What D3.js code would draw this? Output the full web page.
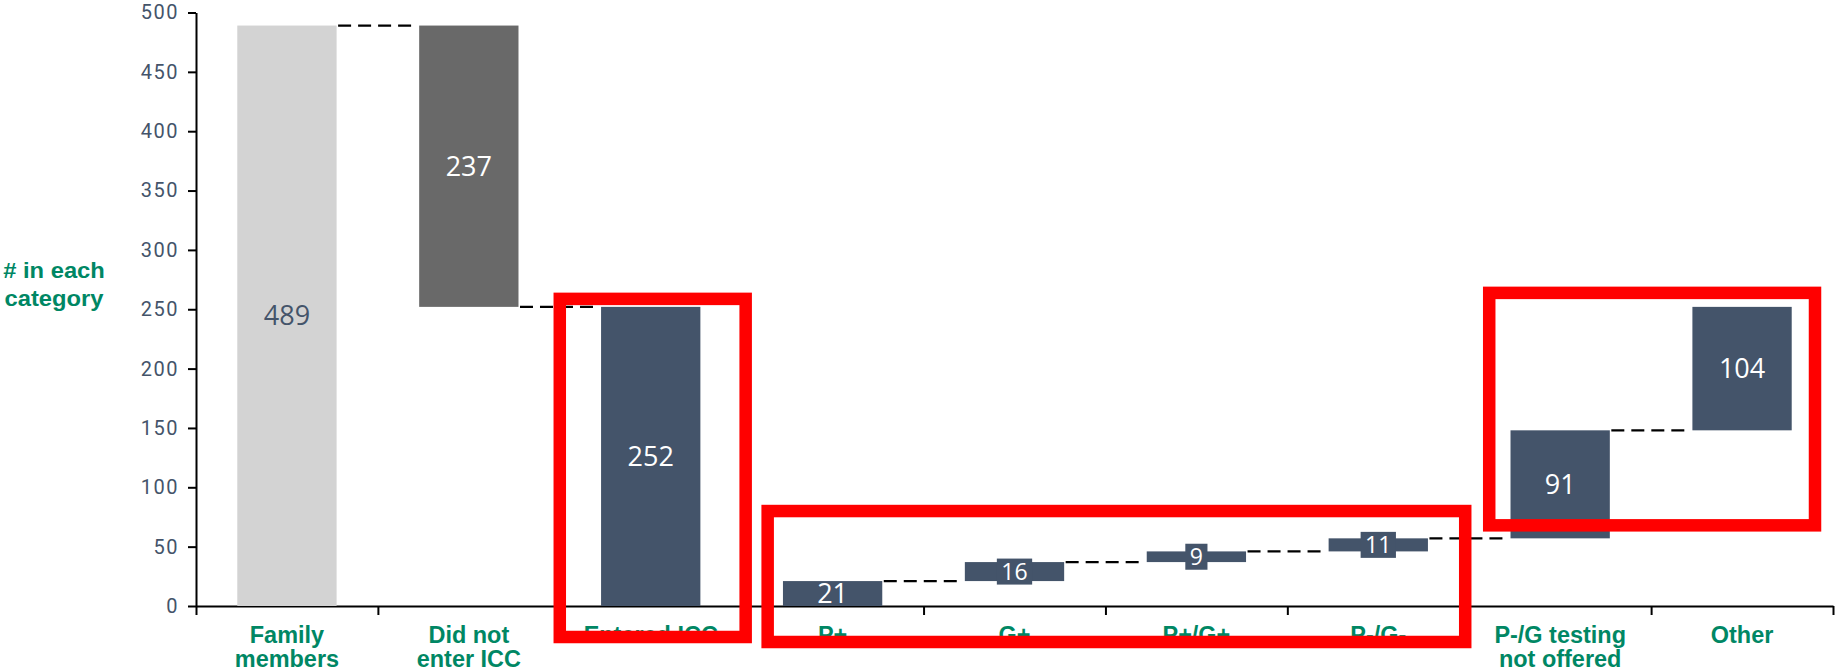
<!DOCTYPE html>
<html>
<head>
<meta charset="utf-8">
<script src="https://cdn.jsdelivr.net/npm/d3@7"></script>
<style>
  html, body { margin: 0; padding: 0; background: #ffffff; }
  svg { display: block; }
</style>
</head>
<body>
<svg id="chart" width="1836" height="671"></svg>
<script>
// Waterfall of family members through ICC entry and testing outcomes
const categories = ["Family members", "Did not enter ICC", "Entered ICC", "P+", "G+", "P+/G+", "P-/G-", "P-/G testing not offered", "Other"];
const categoryLines = [["Family", "members"], ["Did not", "enter ICC"], ["Entered ICC"], ["P+"], ["G+"], ["P+/G+"], ["P-/G-"], ["P-/G testing", "not offered"], ["Other"]];
const values = [489, -237, 252, 21, 16, 9, 11, 91, 104];
// "total" bars rise from zero; "delta" bars float from the running level
const kinds = ["total", "delta", "total", "total", "delta", "delta", "delta", "delta", "delta"];
const barColors = ["#D3D3D3", "#696969", "#44546A", "#44546A", "#44546A", "#44546A", "#44546A", "#44546A", "#44546A"];
const labelColors = ["#44546A", "#FFFFFF", "#FFFFFF", "#FFFFFF", "#FFFFFF", "#FFFFFF", "#FFFFFF", "#FFFFFF", "#FFFFFF"];
const yTicks = [0, 50, 100, 150, 200, 250, 300, 350, 400, 450, 500];
const yTitleLines = ["# in each", "category"];
// highlighted groups: first/last category and value span
const highlights = [
  { first: "Entered ICC", last: "Entered ICC", hi: 252, lo: 0, pad: [0, 4, 8, 31] },
  { first: "P+", last: "P-/G-", hi: 80, lo: 0, pad: [-26, -4, 0, 36] },
  { first: "P-/G testing not offered", last: "Other", hi: 252, lo: 57, pad: [-20, -18, 14, -13] }
];

const svg = d3.select("#chart");
const plotLeft = 196, plotRight = 1833, plotTop = 12.5, plotBottom = 606;

const y = d3.scaleLinear().domain([0, 500]).range([plotBottom, plotTop]);
const x = d3.scaleBand().domain(categories).range([plotLeft, plotRight]).paddingInner(0.454).paddingOuter(0.227);
const xEdge = d3.scaleLinear().domain([0, categories.length]).range([plotLeft, plotRight]);

// compute floating bar extents
let running = 0;
const bars = categories.map((c, i) => {
  let y0, y1;
  if (kinds[i] === "total") { y0 = 0; y1 = values[i]; running = values[i]; }
  else { y0 = running; y1 = running + values[i]; running = y1; }
  return { cat: c, i, v: Math.abs(values[i]), lo: Math.min(y0, y1), hi: Math.max(y0, y1), level: running };
});

// category labels (drawn under the highlight frames)
const labelG = svg.append("g");
categories.forEach((c, i) => {
  const t = labelG.append("text")
    .attr("transform", `translate(${x(c) + x.bandwidth() / 2},643) scale(1.02,1)`)
    .attr("text-anchor", "middle")
    .style("font-family", "'Liberation Sans', Arial, sans-serif")
    .style("font-weight", "bold")
    .style("font-size", "23px")
    .attr("fill", "#008764");
  categoryLines[i].forEach((ln, k) => {
    t.append("tspan").attr("x", 0).attr("dy", k === 0 ? 0 : 24.3).text(ln);
  });
});

// axes
const yAxis = d3.axisLeft(y).tickValues(yTicks).tickSize(8).tickPadding(9).tickSizeOuter(0);
const yg = svg.append("g").attr("transform", `translate(${plotLeft},0)`).call(yAxis);
yg.select(".domain").attr("stroke", "#000").attr("stroke-width", 2);
yg.selectAll(".tick line").attr("stroke", "#000").attr("stroke-width", 2);
yg.selectAll(".tick text")
  .style("font-family", "Roboto, sans-serif")
  .style("font-size", "20px")
  .style("letter-spacing", "1.5px")
  .attr("fill", "#44546A");

const xAxis = d3.axisBottom(xEdge).tickValues(d3.range(categories.length + 1)).tickSize(9).tickFormat("").tickSizeOuter(0);
const xg = svg.append("g").attr("transform", `translate(0,${plotBottom})`).call(xAxis);
xg.select(".domain").attr("stroke", "#000").attr("stroke-width", 2);
xg.selectAll(".tick line").attr("stroke", "#000").attr("stroke-width", 2);

// y axis title
const yt = svg.append("text")
  .attr("transform", "translate(54,277.7) scale(1.08,1)")
  .attr("text-anchor", "middle")
  .style("font-family", "'Liberation Sans', Arial, sans-serif")
  .style("font-weight", "bold")
  .style("font-size", "22px")
  .attr("fill", "#008764");
yTitleLines.forEach((ln, k) => yt.append("tspan").attr("x", 0).attr("dy", k === 0 ? 0 : 28.3).text(ln));

// connectors between consecutive bars
const connG = svg.append("g");
bars.forEach((b, i) => {
  if (i === bars.length - 1) return;
  const n = bars[i + 1];
  if (n.lo !== b.level && n.hi !== b.level) return;
  connG.append("line")
    .attr("x1", x(b.cat) + x.bandwidth() + 1.5)
    .attr("x2", x(n.cat) - 1.5)
    .attr("y1", y(b.level)).attr("y2", y(b.level))
    .attr("stroke", "#000").attr("stroke-width", 2.2)
    .attr("stroke-dasharray", "13,7");
});

// bars
svg.append("g").selectAll("rect").data(bars).join("rect")
  .attr("x", d => x(d.cat))
  .attr("width", x.bandwidth())
  .attr("y", d => y(d.hi))
  .attr("height", d => y(d.lo) - y(d.hi))
  .attr("fill", d => barColors[d.i]);

// value labels; thin bars get a backing box
const lblG = svg.append("g");
bars.forEach(b => {
  const cx = x(b.cat) + x.bandwidth() / 2;
  const cy = (y(b.lo) + y(b.hi)) / 2;
  const thin = (y(b.lo) - y(b.hi)) < 22;
  const fs = thin ? 23 : 27;
  const t = lblG.append("text")
    .attr("x", cx).attr("y", cy + 0.357 * fs)
    .attr("text-anchor", "middle")
    .style("font-family", "'Open Sans', sans-serif")
    .style("font-size", fs + "px")
    .attr("fill", labelColors[b.i])
    .text(b.v);
  if (thin) {
    const w = t.node().getComputedTextLength() + 9;
    lblG.insert("rect", () => t.node())
      .attr("x", cx - w / 2).attr("y", cy - 13)
      .attr("width", w).attr("height", 26)
      .attr("fill", barColors[b.i]);
  }
});

// highlight frames
highlights.forEach(h => {
  const i0 = categories.indexOf(h.first), i1 = categories.indexOf(h.last);
  const x0 = xEdge(i0) - h.pad[0];
  const x1 = xEdge(i1 + 1) + h.pad[1];
  const y0 = y(h.hi) - h.pad[2];
  const y1 = y(h.lo) + h.pad[3];
  svg.append("rect")
    .attr("x", x0).attr("y", y0)
    .attr("width", x1 - x0).attr("height", y1 - y0)
    .attr("fill", "none")
    .attr("stroke", "#FF0000")
    .attr("stroke-width", 12.5);
});
</script>
</body>
</html>
